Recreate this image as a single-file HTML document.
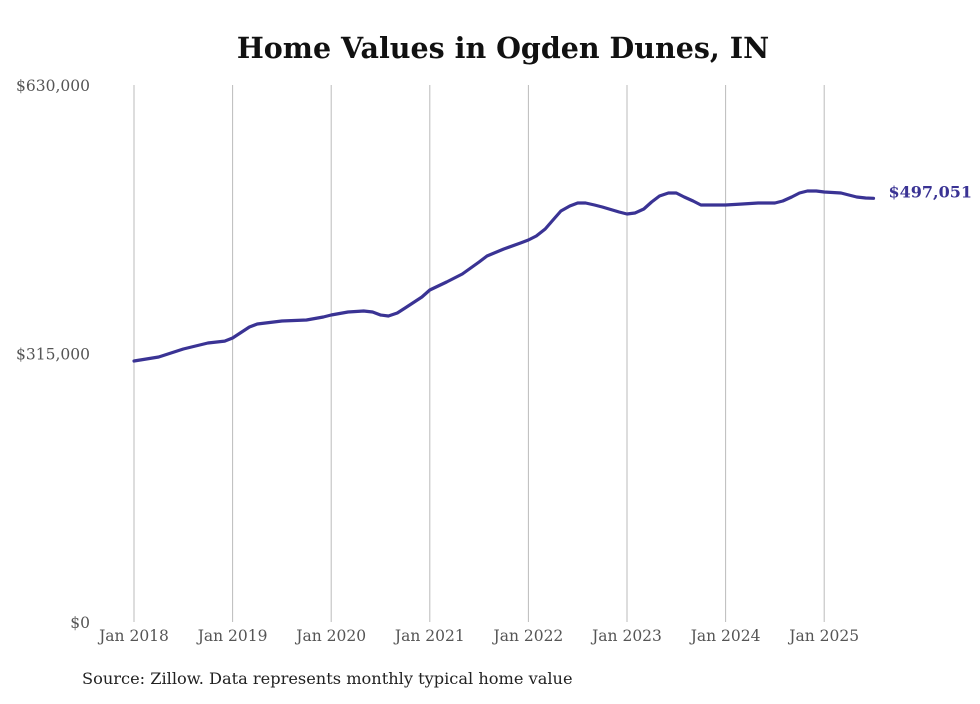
<!DOCTYPE html>
<html><head><meta charset="utf-8"><style>
body{margin:0;background:#fff;}
svg text{font-family:"DejaVu Serif","Liberation Serif",serif;}
</style></head><body>
<svg width="980" height="699" viewBox="0 0 980 699">
<text x="503" y="58" text-anchor="middle" font-size="28.5" font-weight="bold" fill="#111">Home Values in Ogden Dunes, IN</text>
<g id="grid"></g><g id="yaxis"></g><g id="xaxis"></g>
<path id="line" fill="none" stroke="#3a3394" stroke-width="3.2" stroke-linejoin="round" stroke-linecap="round"/>
<text id="endlabel" font-size="16" font-weight="bold" fill="#3a3394"></text>
<text x="82" y="684" font-size="16.2" fill="#222">Source: Zillow. Data represents monthly typical home value</text>
</svg>
<script>
const dates=[2018.0,2018.25,2018.5,2018.75,2018.92,2019.0,2019.17,2019.25,2019.5,2019.75,2019.92,2020.0,2020.17,2020.33,2020.42,2020.5,2020.58,2020.67,2020.75,2020.92,2021.0,2021.17,2021.33,2021.5,2021.58,2021.75,2021.92,2022.0,2022.08,2022.17,2022.25,2022.33,2022.42,2022.5,2022.58,2022.67,2022.75,2022.92,2023.0,2023.08,2023.17,2023.25,2023.33,2023.42,2023.5,2023.58,2023.67,2023.75,2023.92,2024.0,2024.17,2024.33,2024.5,2024.58,2024.67,2024.75,2024.83,2024.92,2025.0,2025.17,2025.25,2025.33,2025.42,2025.5];
const values=[306200,310900,320300,327300,329600,333200,346100,349600,353100,354300,357800,360200,363700,364900,363700,360200,359000,362500,368400,381300,389500,398900,408300,422300,429400,437600,444600,448100,452800,461100,471600,482200,488000,491600,491600,489200,486900,481000,478700,479800,484500,492700,499800,503300,503300,498600,493900,489200,489200,489200,490400,491600,491600,493900,498600,503300,505600,505600,504500,503300,500900,498600,497400,497051];
const yTicks=[0,315000,630000];
const yTickLabels=["$0","$315,000","$630,000"];
const xTicks=[2018,2019,2020,2021,2022,2023,2024,2025];
const xTickLabels=["Jan 2018","Jan 2019","Jan 2020","Jan 2021","Jan 2022","Jan 2023","Jan 2024","Jan 2025"];
const lastLabel="$497,051";
const NS="http://www.w3.org/2000/svg";
const X=d=>134+(d-2018)*98.6;
const Y=v=>622-v/630000*537;
function mk(t,a,p){const e=document.createElementNS(NS,t);for(const k in a)e.setAttribute(k,a[k]);p.appendChild(e);return e;}
const grid=document.getElementById('grid'),xa=document.getElementById('xaxis'),ya=document.getElementById('yaxis');
xTicks.forEach((d,i)=>{
 const l=mk('line',{x1:X(d),x2:X(d),y1:85,y2:622,stroke:'#bbb','stroke-width':1},grid);
 
 
 const t=mk('text',{x:X(d),y:641,'text-anchor':'middle','font-size':15.5,fill:'#555'},xa);
 t.textContent=xTickLabels[i];
 
 
});
yTicks.forEach((v,i)=>{
 const t=mk('text',{x:90,y:Y(v)+6,'text-anchor':'end','font-size':15.5,fill:'#555'},ya);
 t.textContent=yTickLabels[i];
 
 
});
document.getElementById('line').setAttribute('d',dates.map((d,i)=>(i?'L':'M')+X(d).toFixed(1)+','+Y(values[i]).toFixed(1)).join(''));
const el=document.getElementById('endlabel');
el.setAttribute('x',X(dates[dates.length-1])+15);
el.setAttribute('y',Y(values[values.length-1])-1);
el.textContent=lastLabel;
</script>
</body></html>
